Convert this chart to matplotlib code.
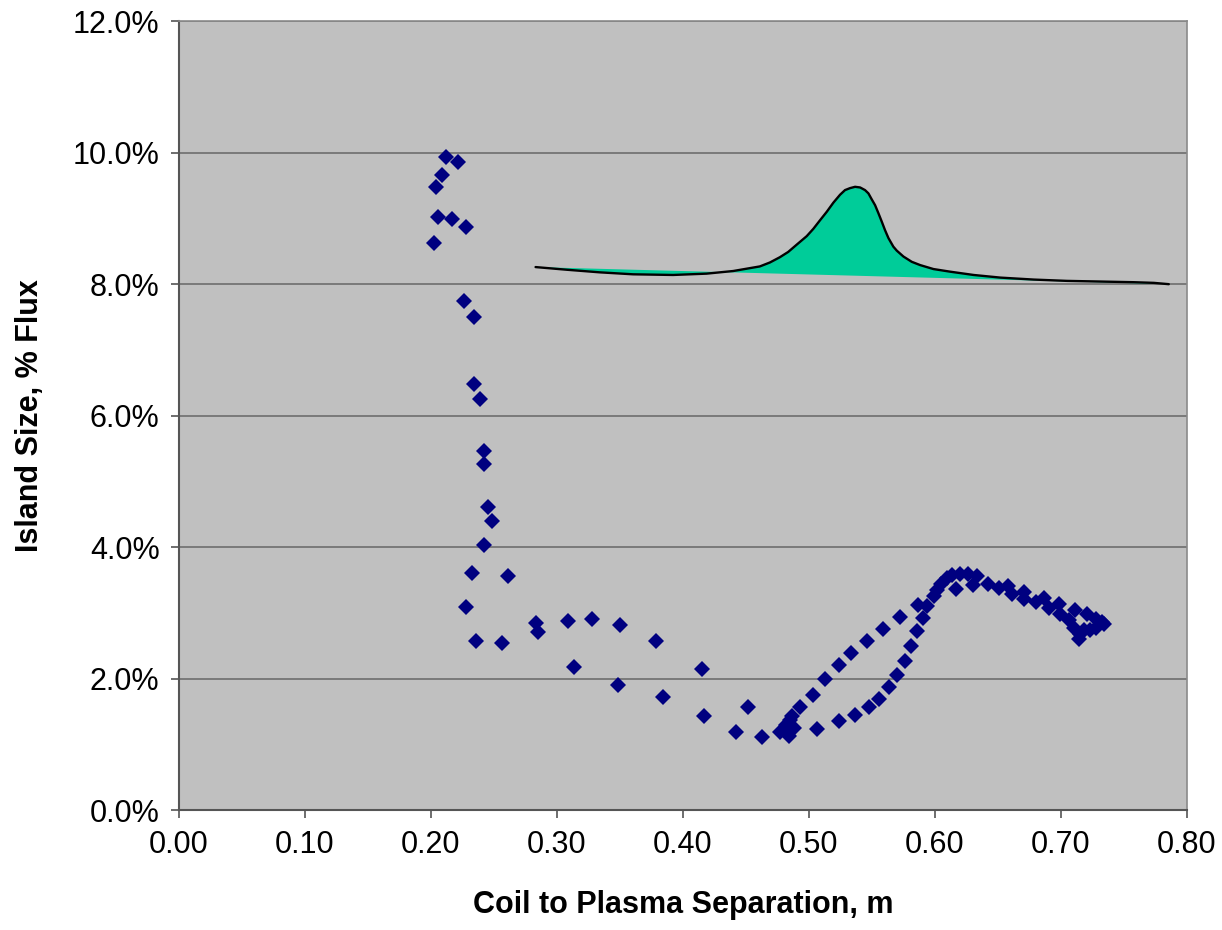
import matplotlib
matplotlib.use("Agg")
import matplotlib.pyplot as plt
from matplotlib.ticker import FuncFormatter

# Scatter data: coil-to-plasma separation (m) vs island size (% flux)
sep_m = [
    0.2121, 0.2216, 0.2089, 0.2041, 0.2057, 0.2168, 0.2280, 0.2025, 0.2264, 0.2343,
    0.2343, 0.2391, 0.2423, 0.2423, 0.2455, 0.2487, 0.2423, 0.2328, 0.2614, 0.2280,
    0.2836, 0.2852, 0.2359, 0.2566,
    0.3090, 0.3282, 0.3505, 0.3791, 0.3139, 0.3489, 0.3839, 0.4156, 0.4172,
    0.4521, 0.4425, 0.4632, 0.4771, 0.4820, 0.4850, 0.4870, 0.4840, 0.4880,
    0.4930, 0.5031, 0.5127, 0.5238, 0.5334, 0.5461, 0.5588, 0.5721,
    0.5063, 0.5238, 0.5366, 0.5477, 0.5556, 0.5636, 0.5700,
    0.5763, 0.5811, 0.5859, 0.5906, 0.5869, 0.5943, 0.5991, 0.6022, 0.6054, 0.6097,
    0.6134, 0.6198, 0.6261, 0.6166, 0.6303, 0.6340, 0.6420, 0.6510, 0.6579, 0.6611,
    0.6712, 0.6706, 0.6802, 0.6865, 0.6908, 0.6988, 0.6992, 0.7067, 0.7115, 0.7104,
    0.7147, 0.7157, 0.7210, 0.7237, 0.7284, 0.7279, 0.7327, 0.7343, 0.7183,
]
island_pct = [
    9.94, 9.85, 9.66, 9.48, 9.02, 8.99, 8.87, 8.62, 7.74, 7.50,
    6.49, 6.25, 5.46, 5.27, 4.61, 4.40, 4.03, 3.61, 3.57, 3.09,
    2.85, 2.71, 2.57, 2.54,
    2.88, 2.91, 2.82, 2.57, 2.18, 1.91, 1.72, 2.15, 1.44,
    1.57, 1.20, 1.12, 1.20, 1.30, 1.37, 1.43, 1.13, 1.25,
    1.57, 1.75, 2.00, 2.21, 2.39, 2.57, 2.76, 2.94,
    1.24, 1.36, 1.45, 1.57, 1.69, 1.88, 2.06,
    2.27, 2.50, 2.73, 2.93, 3.13, 3.11, 3.26, 3.35, 3.45, 3.53,
    3.58, 3.60, 3.59, 3.37, 3.43, 3.56, 3.45, 3.38, 3.41, 3.29,
    3.32, 3.21, 3.17, 3.23, 3.08, 3.14, 2.99, 2.89, 3.04, 2.78,
    2.61, 2.69, 2.99, 2.74, 2.91, 2.78, 2.87, 2.83, 2.74,
]

# Green freeform shape (curve outline, closed by a straight chord)
shape_x = [0.2831, 0.3075, 0.3340, 0.3605, 0.3923, 0.4188, 0.4400, 0.4612, 0.4692,
           0.4771, 0.4837, 0.4904, 0.4984, 0.5036, 0.5089, 0.5143, 0.5196, 0.5249,
           0.5288, 0.5328, 0.5368, 0.5408, 0.5447, 0.5474, 0.5500, 0.5527, 0.5553,
           0.5580, 0.5606, 0.5633, 0.5672, 0.5699, 0.5752, 0.5818, 0.5885, 0.5990,
           0.6123, 0.6309, 0.6521, 0.6786, 0.7051, 0.7316, 0.7581, 0.7740, 0.7859]
shape_y = [8.26, 8.22, 8.18, 8.15, 8.14, 8.16, 8.20, 8.27, 8.33,
           8.41, 8.49, 8.60, 8.73, 8.84, 8.97, 9.10, 9.24, 9.36,
           9.43, 9.46, 9.48, 9.47, 9.43, 9.38, 9.29, 9.20, 9.08,
           8.95, 8.82, 8.70, 8.57, 8.51, 8.42, 8.34, 8.29, 8.23,
           8.19, 8.14, 8.10, 8.07, 8.05, 8.04, 8.03, 8.02, 8.00]

x_ticks = [0.0, 0.1, 0.2, 0.3, 0.4, 0.5, 0.6, 0.7, 0.8]
y_ticks = [0, 2, 4, 6, 8, 10, 12]

plt.rcParams['font.family'] = ['Liberation Sans', 'DejaVu Sans']

fig = plt.figure(figsize=(12.22, 9.30), dpi=100)
ax = fig.add_axes([0.1465, 0.1285, 0.8245, 0.8489])
ax.set_facecolor('#C0C0C0')

ax.set_xlim(0, 0.8)
ax.set_ylim(0, 12)
ax.set_xticks(x_ticks)
ax.set_yticks(y_ticks)
ax.xaxis.set_major_formatter(FuncFormatter(lambda v, p: f"{v:.2f}"))
ax.yaxis.set_major_formatter(FuncFormatter(lambda v, p: f"{v:.1f}%"))

ax.grid(axis='y', color='#6e6e6e', linewidth=1.2)
ax.set_axisbelow(True)

for s in ['top', 'right']:
    ax.spines[s].set_color('#8a8a8a')
    ax.spines[s].set_linewidth(1.2)
for s in ['left', 'bottom']:
    ax.spines[s].set_color('#555555')
    ax.spines[s].set_linewidth(1.5)

ax.tick_params(axis='both', direction='out', length=6, width=1.2, color='#555555',
               labelsize=22, pad=8)

ax.fill(shape_x, shape_y, color='#00CC99', zorder=2, linewidth=0)
ax.plot(shape_x, shape_y, color='black', linewidth=1.7, zorder=3,
        solid_capstyle='round', solid_joinstyle='round')

ax.plot(sep_m, island_pct, linestyle='none', marker='D', markersize=8.6,
        color='#000080', markeredgewidth=0, zorder=4, clip_on=False)

ax.set_xlabel('Coil to Plasma Separation, m', fontsize=22, fontweight='bold', labelpad=22)
ax.set_ylabel('Island Size, % Flux', fontsize=22, fontweight='bold', labelpad=20)

fig.savefig('out.png', dpi=100, facecolor='white')
